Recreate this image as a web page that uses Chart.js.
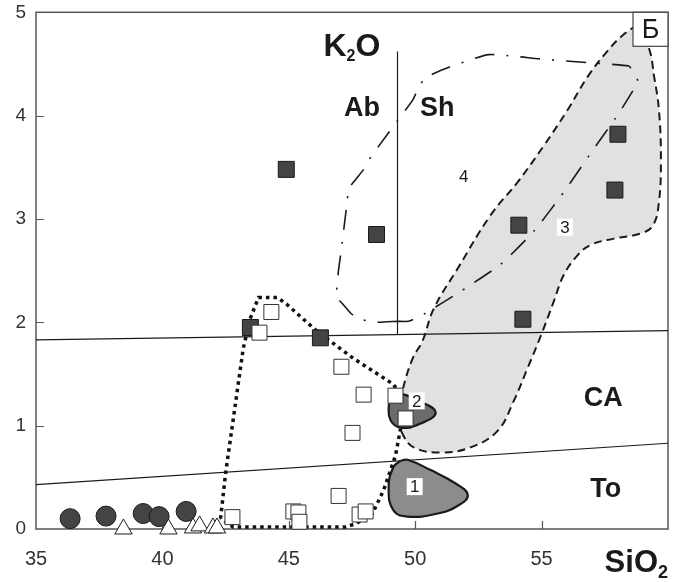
<!DOCTYPE html>
<html>
<head>
<meta charset="utf-8">
<script src="https://cdn.jsdelivr.net/npm/chart.js@4.4.0/dist/chart.umd.min.js"></script>
<style>
  html, body { margin: 0; padding: 0; background: #fff; }
</style>
</head>
<body>
<canvas id="chart" width="685" height="582"></canvas>
<script>
// Оси: SiO2 по горизонтали, K2O по вертикали
const X_RANGE = [35, 60];
const Y_RANGE = [0, 5];
const X_TICKS = [35, 40, 45, 50, 55];
const Y_TICKS = [0, 1, 2, 3, 4, 5];

// Анализы [SiO2, K2O]
const darkSquares = [[44.9, 3.48], [48.47, 2.85], [58.02, 3.82], [57.9, 3.28], [54.1, 2.94], [54.26, 2.03], [43.48, 1.95], [46.25, 1.85]];
const openSquares = [[44.31, 2.10], [43.84, 1.90], [47.08, 1.57], [47.96, 1.30], [47.52, 0.93], [49.22, 1.29], [49.62, 1.07],
  [46.97, 0.32], [42.77, 0.115], [45.18, 0.17], [45.38, 0.16], [45.42, 0.07], [47.8, 0.14], [48.04, 0.17]];
const darkCircles = [[36.35, 0.10], [37.77, 0.125], [39.24, 0.15], [39.87, 0.12], [40.94, 0.17]];
const openTriangles = [[38.46, 0.0], [40.24, 0.0], [41.21, 0.01], [41.47, 0.03], [42.0, 0.01], [42.16, 0.01]];

// Границы серий (толеитовая / известково-щелочная / шошонитовая)
const lineToCA = [[35, 0.43], [60, 0.83]];
const lineCAhigh = [[35, 1.83], [60, 1.92]];
const lineAbSh = [[49.3, 1.88], [49.3, 4.62]];

// Поля 1-4 и пунктирный контур
const field1 = [[49.42, 0.66], [49.70, 0.67], [50.61, 0.57], [51.60, 0.44], [52.08, 0.33], [51.72, 0.23], [50.89, 0.15],
  [49.70, 0.12], [49.14, 0.18], [48.95, 0.40], [49.14, 0.60], [49.42, 0.66]];
const field2 = [[49.03, 1.29], [49.42, 1.31], [50.13, 1.24], [50.81, 1.13], [50.21, 1.02], [49.42, 0.98], [49.03, 1.05],
  [48.95, 1.17], [49.03, 1.29]];
const field3 = [[58.77, 4.875], [59.25, 4.65], [59.45, 4.38], [59.64, 4.06], [59.72, 3.58], [59.64, 3.16], [59.41, 2.94],
  [58.93, 2.86], [57.86, 2.81], [56.95, 2.75], [56.43, 2.65], [55.88, 2.46], [55.48, 2.20], [54.97, 1.87], [54.45, 1.56],
  [53.9, 1.24], [53.26, 0.95], [52.19, 0.79], [51.01, 0.74], [49.94, 0.79], [49.5, 0.92], [49.34, 1.08], [49.5, 1.34],
  [49.9, 1.65], [50.29, 1.82], [50.73, 2.13], [51.68, 2.52], [52.99, 3.04], [54.06, 3.36], [55.09, 3.71], [56.04, 4.06],
  [56.83, 4.38], [57.62, 4.63], [58.22, 4.78], [58.77, 4.875]];
const field4 = [[49.3, 2.01], [48.35, 2.0], [47.72, 2.04], [47.44, 2.09], [47.16, 2.17], [46.89, 2.25], [46.96, 2.49],
  [47.08, 2.71], [47.2, 2.95], [47.32, 3.19], [47.36, 3.29], [47.64, 3.38], [47.96, 3.48], [48.19, 3.58], [48.75, 3.77],
  [49.3, 3.95], [49.9, 4.15], [50.1, 4.25], [50.37, 4.36], [51.13, 4.45], [52.91, 4.59], [54.89, 4.55], [56.95, 4.51],
  [58.45, 4.48], [58.65, 4.41], [58.81, 4.33], [58.02, 4.01], [56.95, 3.64], [55.88, 3.26], [54.69, 2.88], [53.38, 2.56],
  [51.8, 2.30], [50.21, 2.06], [49.74, 2.01], [49.3, 2.01]];
const dottedField = [[42.3, 0.10], [42.5, 0.54], [43.2, 1.75], [43.48, 2.04], [43.8, 2.24], [44.55, 2.24], [44.94, 2.17],
  [46.13, 1.91], [47.56, 1.65], [49.14, 1.40], [49.42, 1.29], [49.42, 0.97], [49.22, 0.71], [48.75, 0.375], [48.31, 0.15],
  [47.64, 0.05], [47.24, 0.02], [42.8, 0.02], [42.3, 0.10]];

// Подписи полей и серий
const seriesNames = ['Ab', 'Sh', 'CA', 'To'];
const seriesAnchors = [[47.90, 4.07], [50.87, 4.07], [57.44, 1.26], [57.54, 0.385]];
const fieldNumbers = ['1', '2', '3', '4'];
const fieldAnchors = [[49.98, 0.41], [50.06, 1.24], [55.92, 2.92], [51.92, 3.41]];

const FONT = "'Liberation Sans', Arial, sans-serif";
const pts = arr => arr.map(([x, y]) => ({ x, y }));

function lineSet(data, extra) {
  return Object.assign({
    data: pts(data), showLine: true, pointRadius: 0, pointHoverRadius: 0,
    borderColor: '#1a1a1a', borderWidth: 1.2, fill: false, tension: 0
  }, extra);
}

function markerSet(data, extra) {
  return Object.assign({
    data: pts(data), showLine: false, clip: false, borderWidth: 1, borderColor: '#1a1a1a'
  }, extra);
}

// Рамка и внутренние засечки
const framePlugin = {
  id: 'frame',
  beforeDatasetsDraw(chart) {
    const { ctx, chartArea: a, scales: { x, y } } = chart;
    ctx.save();
    ctx.strokeStyle = '#555';
    ctx.lineWidth = 1.5;
    ctx.strokeRect(a.left, a.top, a.right - a.left, a.bottom - a.top);
    ctx.lineWidth = 1.2;
    ctx.beginPath();
    Y_TICKS.slice(1, -1).forEach(v => {
      const py = Math.round(y.getPixelForValue(v)) + 0.5;
      ctx.moveTo(a.left, py); ctx.lineTo(a.left + 8, py);
    });
    X_TICKS.slice(1).forEach(v => {
      const px = Math.round(x.getPixelForValue(v)) + 0.5;
      ctx.moveTo(px, a.bottom); ctx.lineTo(px, a.bottom - 8);
    });
    ctx.stroke();
    ctx.restore();
  },
  afterDatasetsDraw(chart) {
    const { ctx, chartArea: a, scales: { x, y } } = chart;
    ctx.save();
    ctx.fillStyle = '#1a1a1a';
    ctx.textAlign = 'center';
    ctx.textBaseline = 'middle';

    // Ab, Sh, CA, To
    ctx.font = 'bold 27px ' + FONT;
    seriesNames.forEach((t, i) => {
      ctx.fillText(t, x.getPixelForValue(seriesAnchors[i][0]), y.getPixelForValue(seriesAnchors[i][1]));
    });

    // номера полей, 1-3 на белой подложке
    ctx.font = '17px ' + FONT;
    fieldNumbers.forEach((t, i) => {
      const px = x.getPixelForValue(fieldAnchors[i][0]);
      const py = y.getPixelForValue(fieldAnchors[i][1]);
      if (i < 3) {
        ctx.fillStyle = '#fff';
        ctx.fillRect(px - 8, py - 8.5, 16, 17);
      }
      ctx.fillStyle = '#1a1a1a';
      ctx.fillText(t, px, py + 1);
    });

    // K2O внутри поля
    ctx.textAlign = 'left';
    ctx.textBaseline = 'alphabetic';
    let kx = x.getPixelForValue(46.37);
    const ky = y.getPixelForValue(4.58);
    ctx.font = 'bold 32px ' + FONT;
    ctx.fillText('K', kx, ky);
    kx += ctx.measureText('K').width;
    ctx.font = 'bold 16px ' + FONT;
    ctx.fillText('2', kx, ky + 5);
    kx += ctx.measureText('2').width;
    ctx.font = 'bold 32px ' + FONT;
    ctx.fillText('O', kx, ky);

    // SiO2 под осью справа
    ctx.font = 'bold 18px ' + FONT;
    const w2 = ctx.measureText('2').width;
    ctx.fillText('2', a.right - w2, a.bottom + 49);
    ctx.font = 'bold 31px ' + FONT;
    const wS = ctx.measureText('SiO').width;
    ctx.fillText('SiO', a.right - w2 - wS, a.bottom + 43);

    // буква рисунка
    ctx.fillStyle = '#fff';
    ctx.strokeStyle = '#444';
    ctx.lineWidth = 1.2;
    ctx.fillRect(a.right - 35, a.top, 35, 34);
    ctx.strokeRect(a.right - 35, a.top, 35, 34);
    ctx.fillStyle = '#1a1a1a';
    ctx.font = '27px ' + FONT;
    ctx.textAlign = 'center';
    ctx.textBaseline = 'middle';
    ctx.fillText('Б', a.right - 17.5, a.top + 18);
    ctx.restore();
  }
};

new Chart(document.getElementById('chart'), {
  type: 'scatter',
  data: {
    datasets: [
      lineSet(field3, { order: 20, fill: 'shape', backgroundColor: '#e1e1e1', borderWidth: 2, borderDash: [8, 5], tension: 0.4 }),
      lineSet(field4, { order: 19, borderWidth: 1.6, borderDash: [20, 12, 2, 12], tension: 0.15 }),
      lineSet(lineToCA, { order: 18 }),
      lineSet(lineCAhigh, { order: 17 }),
      lineSet(lineAbSh, { order: 16 }),
      lineSet(dottedField, { order: 15, borderWidth: 3.5, borderDash: [3.5, 4], borderColor: '#111' }),
      lineSet(field1, { order: 14, fill: 'shape', backgroundColor: '#8d8b8b', borderWidth: 2.2, tension: 0.45 }),
      lineSet(field2, { order: 13, fill: 'shape', backgroundColor: '#6d6b6b', borderWidth: 2.2, tension: 0.45 }),
      markerSet(darkCircles, { order: 4, pointStyle: 'circle', pointRadius: 10, backgroundColor: '#454343' }),
      markerSet(openTriangles, { order: 3, pointStyle: 'triangle', pointRadius: 10, backgroundColor: '#fff' }),
      markerSet(darkSquares, { order: 2, pointStyle: 'rect', pointRadius: 11.3, backgroundColor: '#454343' }),
      markerSet(openSquares, { order: 1, pointStyle: 'rect', pointRadius: 10.6, backgroundColor: '#fff', borderColor: '#333' })
    ]
  },
  options: {
    responsive: false,
    animation: false,
    events: [],
    layout: { padding: { top: 9, right: 17, left: 0, bottom: 0 } },
    plugins: { legend: { display: false }, tooltip: { enabled: false } },
    scales: {
      x: {
        type: 'linear', min: X_RANGE[0], max: X_RANGE[1],
        grid: { display: false, drawTicks: false }, border: { display: false },
        ticks: {
          stepSize: 5, padding: 18, color: '#333', font: { family: FONT, size: 20 },
          callback: v => X_TICKS.includes(v) ? String(v) : ''
        },
        afterFit: s => { s.height = 53; s.paddingLeft = 0; s.paddingRight = 0; }
      },
      y: {
        type: 'linear', min: Y_RANGE[0], max: Y_RANGE[1],
        grid: { display: false, drawTicks: false }, border: { display: false },
        ticks: {
          stepSize: 1, padding: 10, color: '#333', font: { family: FONT, size: 19 },
          callback: v => Y_TICKS.includes(v) ? String(v) : ''
        },
        afterFit: s => { s.width = 36; s.paddingTop = 0; s.paddingBottom = 0; }
      }
    }
  },
  plugins: [framePlugin]
});
</script>
</body>
</html>
